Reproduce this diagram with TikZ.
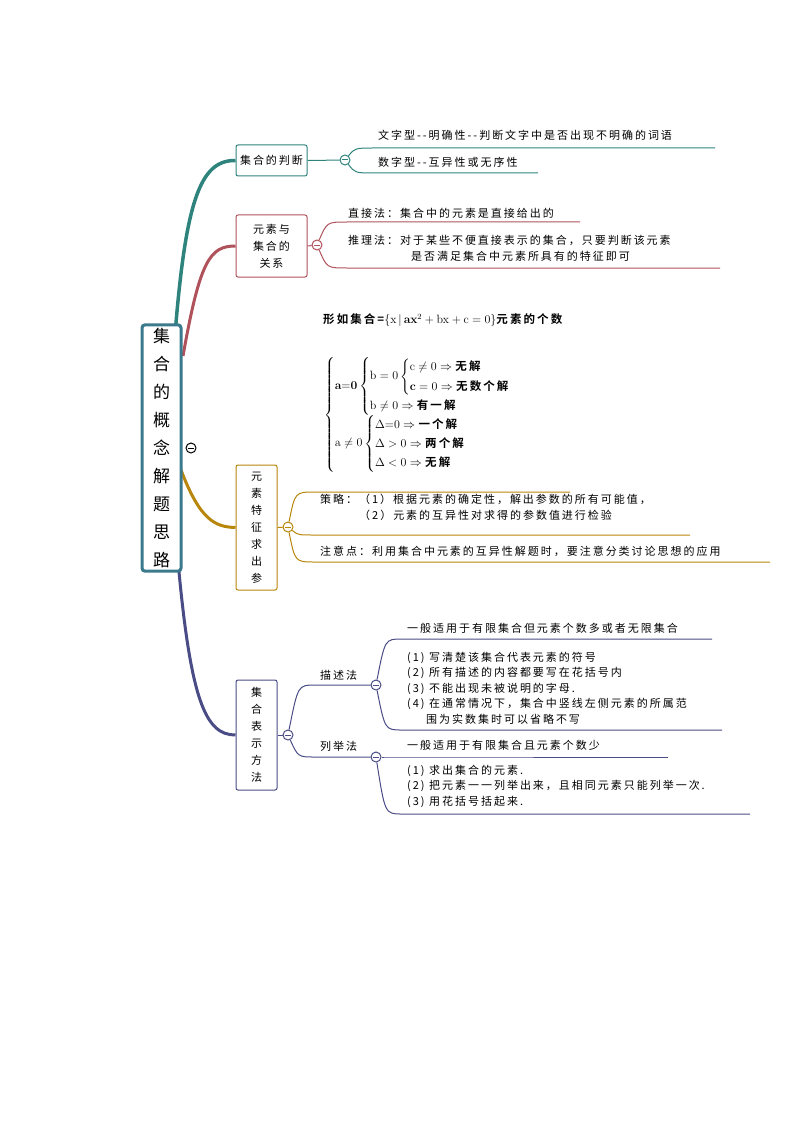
\documentclass[tikz,border=0pt]{standalone}
\usepackage{amsmath}
\usepackage[no-math]{fontspec}
\setmainfont{Noto Sans CJK SC}[LetterSpace=18,BoldFont={Noto Sans CJK SC Bold}]
\usetikzlibrary{positioning}
\definecolor{teal1}{HTML}{2E847C}
\definecolor{rose1}{HTML}{B0525C}
\definecolor{gold1}{HTML}{B8860B}
\definecolor{navy1}{HTML}{4A4C86}
\definecolor{root1}{HTML}{3A7A8C}
\tikzset{
  box/.style={draw, rounded corners=2pt, fill=white, line width=1pt, align=center, inner sep=4pt, font=\fontsize{11}{17}\selectfont},
  fold/.style={draw, circle, fill=white, line width=1pt, minimum size=10pt, inner sep=0pt,
    path picture={\draw[line width=1pt] ([xshift=-3pt]path picture bounding box.center) -- ([xshift=3pt]path picture bounding box.center);}},
  txt/.style={anchor=west, inner sep=0pt, align=left, font=\fontsize{11}{16}\selectfont},
  link/.style={line width=1pt},
}
\begin{document}
\begin{tikzpicture}[x=1pt,y=-1pt]
\useasboundingbox (0,0) rectangle (794,1123);
% main branches
\node[box, draw=teal1, minimum width=71pt, minimum height=31pt] (b1) at (271.5,160.5) {集合的判断};
\node[box, draw=rose1, minimum width=71pt, minimum height=62pt] (b2) at (271.5,246) {元素与\\集合的\\关系};
\node[box, draw=gold1, minimum width=41pt, minimum height=125pt] (b3) at (256.5,527.5) {元\\素\\特\\征\\求\\出\\参};
\node[box, draw=navy1, minimum width=41pt, minimum height=110pt] (b4) at (256.5,735) {集\\合\\表\\示\\方\\法};
\draw[teal1, line width=3.5pt] (174,348) .. controls (185,200) and (200,160) .. (b1.west);
\draw[rose1, line width=3pt] (183,356) .. controls (200,260) and (210,246) .. (b2.west);
\draw[gold1, line width=3pt] (181,470) .. controls (200,520) and (215,527) .. (b3.west);
\draw[navy1, line width=3pt] (177,550) .. controls (190,700) and (205,735) .. (b4.west);
% root
\node[draw=root1, line width=3pt, rounded corners=3pt, fill=white, minimum width=39pt, minimum height=206pt, align=center,
  font=\fontsize{17}{28}\selectfont] (root) at (161.5,448) {集\\合\\的\\概\\念\\解\\题\\思\\路};
\node[fold, draw=black] (rc) at (191,448) {};
% branch 1
\node[fold, draw=teal1] (f1) at (345,160) {};
\coordinate (e11) at (715,148);
\coordinate (e12) at (538,173);
\node[txt] (t11) at (378,135) {文字型{-}{-}明确性{-}{-}判断文字中是否出现不明确的词语};
\node[txt] (t12) at (378,162) {数字型{-}{-}互异性或无序性};
\draw[link, teal1] (b1.east) -- (f1);
\draw[link, teal1] (f1) .. controls (355,148) .. (375,148) -- (e11);
\draw[link, teal1] (f1) .. controls (355,173) .. (375,173) -- (e12);
% branch 2
\node[fold, draw=rose1] (f2) at (317,245) {};
\coordinate (e21) at (580,222);
\coordinate (e22) at (720,268);
\node[txt] (t21) at (348,213) {直接法：集合中的元素是直接给出的};
\node[txt] (t22) at (348,248) {推理法：对于某些不便直接表示的集合，只要判断该元素\\\hspace{63pt}是否满足集合中元素所具有的特征即可};
\draw[link, rose1] (b2.east) -- (f2);
\draw[link, rose1] (f2) .. controls (327,222) .. (347,222) -- (e21);
\draw[link, rose1] (f2) .. controls (327,268) .. (347,268) -- (e22);
% branch 3
\node[txt, font=\fontsize{11.5}{16}\bfseries] (t30) at (323,320) {形如集合=$\{\mathrm{x}\,|\,\mathbf{ax}^2+\mathrm{bx}+\mathrm{c}=0\}$元素的个数};
\node[txt, font=\fontsize{11.5}{16}\bfseries] (t31) at (324,415) {\renewcommand{\arraystretch}{1.95}$\begin{cases}
 \mathbf{a{=}0}\begin{cases} \mathrm{b}=0\begin{cases} \mathrm{c}\ne0\Rightarrow\text{无解}\\ \mathbf{c}=0\Rightarrow\text{无数个解}\end{cases}\\[4pt] \mathrm{b}\ne0\Rightarrow\text{有一解}\end{cases}\\[14pt]
 \mathrm{a}\ne0\begin{cases}\Delta{=}0\Rightarrow\text{一个解}\\ \Delta>0\Rightarrow\text{两个解}\\ \Delta<0\Rightarrow\text{无解}\end{cases}\end{cases}$};
\node[fold, draw=gold1] (f3) at (288,527) {};
\coordinate (e30) at (570,492);
\coordinate (e31) at (690,535);
\coordinate (e32) at (770,562);
\node[txt] (t32) at (320,507) {策略：（1）根据元素的确定性，解出参数的所有可能值，\\\hspace{39pt}（2）元素的互异性对求得的参数值进行检验};
\node[txt] (t33) at (320,551) {注意点：利用集合中元素的互异性解题时，要注意分类讨论思想的应用};
\draw[link, gold1] (b3.east) -- (f3);
\draw[link, gold1] (f3) .. controls (295,492) .. (315,492) -- (e30);
\draw[link, gold1] (f3) .. controls (298,535) .. (315,535) -- (e31);
\draw[link, gold1] (f3) .. controls (295,562) .. (315,562) -- (e32);
% branch 4
\node[fold, draw=navy1] (f4) at (288,735) {};
\node[fold, draw=navy1] (f41) at (376,685) {};
\node[fold, draw=navy1] (f42) at (376,757) {};
\node[txt] (t41) at (320,675) {描述法};
\node[txt] (t42) at (320,746) {列举法};
\draw[link, navy1] (b4.east) -- (f4);
\draw[link, navy1] (f4) .. controls (298,685) .. (315,685) -- (f41);
\draw[link, navy1] (f4) .. controls (298,757) .. (315,757) -- (f42);
\coordinate (e411) at (712,639);
\coordinate (e412) at (722,730);
\coordinate (e421) at (668,757);
\coordinate (e422) at (750,814);
\node[txt] (t411) at (407,628) {一般适用于有限集合但元素个数多或者无限集合};
\node[txt, font=\fontsize{11}{15.5}\selectfont] (t412) at (407,688) {(1) 写清楚该集合代表元素的符号\\(2) 所有描述的内容都要写在花括号内\\(3) 不能出现未被说明的字母.\\(4) 在通常情况下，集合中竖线左侧元素的所属范\\\hspace{19pt}围为实数集时可以省略不写};
\node[txt] (t421) at (407,745) {一般适用于有限集合且元素个数少};
\node[txt, font=\fontsize{11}{15.5}\selectfont] (t422) at (407,786) {(1) 求出集合的元素.\\(2) 把元素一一列举出来，且相同元素只能列举一次.\\(3) 用花括号括起来.};
\draw[link, navy1] (f41) .. controls (385,639) .. (402,639) -- (e411);
\draw[link, navy1] (f41) .. controls (385,730) .. (402,730) -- (e412);
\draw[link, navy1] (f42) .. controls (385,757) .. (402,757) -- (e421);
\draw[link, navy1] (f42) .. controls (385,814) .. (402,814) -- (e422);
\end{tikzpicture}
\end{document}
